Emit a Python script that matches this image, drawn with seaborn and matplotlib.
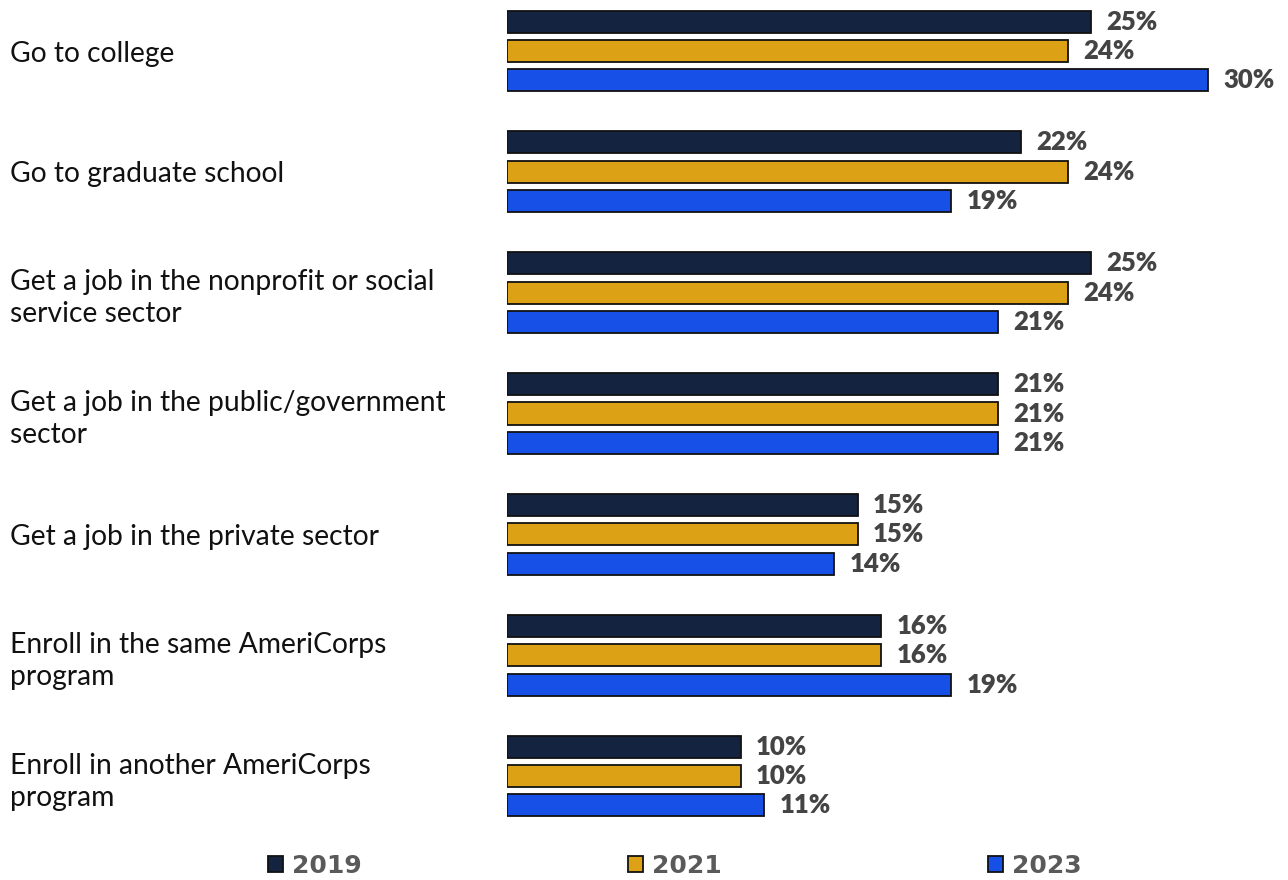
import matplotlib
matplotlib.use("Agg")
import matplotlib.pyplot as plt
import seaborn as sns
import pandas as pd

# Post-service plans of AmeriCorps members, by survey year
categories = [
    "Go to college",
    "Go to graduate school",
    "Get a job in the nonprofit or social\nservice sector",
    "Get a job in the public/government\nsector",
    "Get a job in the private sector",
    "Enroll in the same AmeriCorps\nprogram",
    "Enroll in another AmeriCorps\nprogram",
]
years = ["2019", "2021", "2023"]
values_2019 = [25, 22, 25, 21, 15, 16, 10]
values_2021 = [24, 24, 24, 21, 15, 16, 10]
values_2023 = [30, 19, 21, 21, 14, 19, 11]
colors = ["#14233F", "#DCA114", "#1750E6"]

rows = []
for year, vals in zip(years, [values_2019, values_2021, values_2023]):
    for cat, v in zip(categories, vals):
        rows.append({"category": cat, "year": year, "value": v})
df = pd.DataFrame(rows)

sns.set_theme(style="white")
plt.rcParams["font.family"] = ["Lato", "DejaVu Sans"]

W, H = 1288, 880
fig = plt.figure(figsize=(W / 100, H / 100), dpi=100)
ax_left, ax_top, ax_bottom = 507, 0, 830
ax = fig.add_axes([ax_left / W, (H - ax_bottom) / H, 1 - ax_left / W, (ax_bottom - ax_top) / H])

sns.barplot(
    data=df, y="category", x="value", hue="year", orient="h",
    palette=colors, saturation=1, order=categories, hue_order=years,
    width=0.73, gap=0.25, edgecolor="#111111", linewidth=1.3,
    legend=False, ax=ax,
)

px_per_pct = 23.37
ax.set_xlim(0, (W - ax_left) / px_per_pct)
px_per_unit = (776 - 51) / 6
ax.set_ylim(6 + (ax_bottom - 776) / px_per_unit, -51 / px_per_unit)

for container in ax.containers:
    ax.bar_label(container, fmt="%d%%", padding=11, fontsize=18.5,
                 fontweight="heavy", color="#444444")

ax.set_xlabel("")
ax.set_ylabel("")
ax.set_xticks([])
ax.tick_params(axis="y", length=0, pad=(ax_left - 10) * 0.72, labelsize=20.3, labelcolor="#111111")
for lab in ax.get_yticklabels():
    lab.set_horizontalalignment("left")
    lab.set_linespacing(1.3)
sns.despine(ax=ax, left=True, bottom=True)

# Legend along the bottom edge
handles = [plt.Rectangle((0, 0), 1, 1, facecolor=c, edgecolor="#111111", linewidth=1.3) for c in colors]
fig.legend(
    handles, years, loc="center", bbox_to_anchor=(0.524, 14 / H), ncol=3,
    frameon=False, handlelength=0.6, handleheight=0.62, handletextpad=0.36,
    columnspacing=10.65,
    prop={"family": "DejaVu Sans", "weight": "bold", "size": 18},
    labelcolor="#5a5a5a",
)

fig.savefig("out.png", dpi=100)
